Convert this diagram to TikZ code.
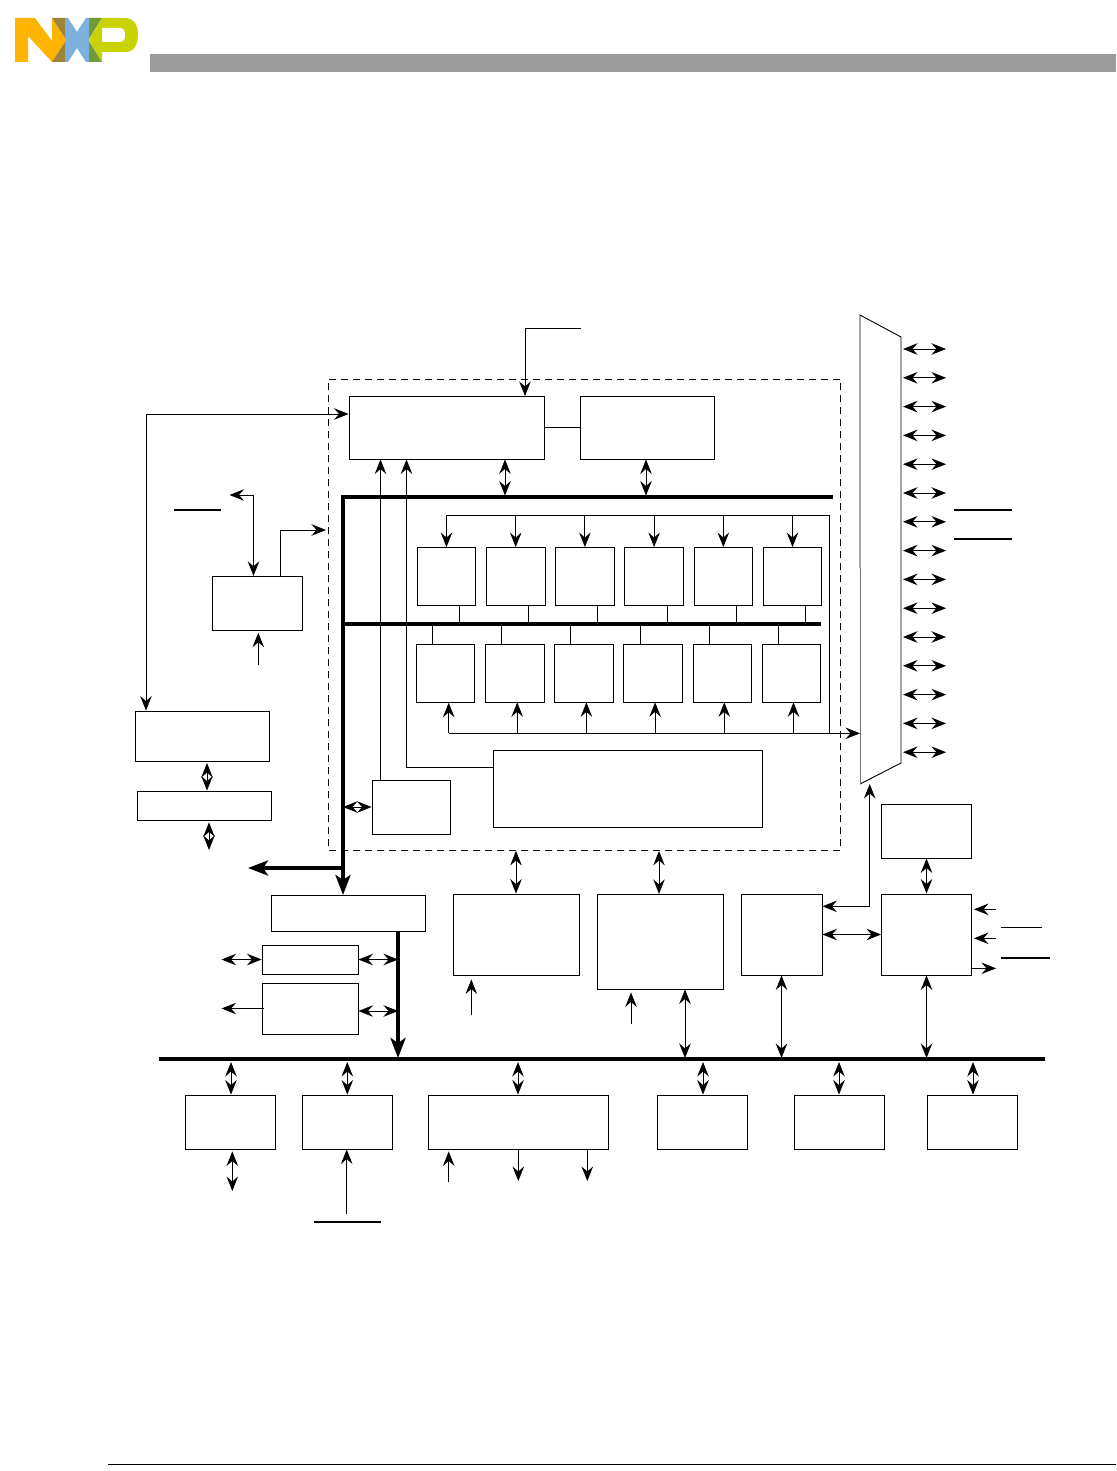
\documentclass[tikz,border=0pt]{standalone}
\usepackage{amsmath}
\usepackage{tikz}
\usetikzlibrary{arrows.meta,positioning,calc}

\definecolor{nxpyellow}{HTML}{FFB500}
\definecolor{nxpbrown}{HTML}{9C853B}
\definecolor{nxpblue}{HTML}{7BB1DC}
\definecolor{nxpgreen}{HTML}{6F9A37}
\definecolor{nxplime}{HTML}{C9D300}
\definecolor{headerbar}{HTML}{9C9C9C}

\begin{document}
\begin{tikzpicture}[
    x=1pt, y=-1pt,
    line width=0.9pt,
    blk/.style={draw, rectangle, inner sep=0pt},
    core/.style={draw, rectangle, inner sep=0pt, minimum width=58.5pt, minimum height=58pt},
    perif/.style={draw, rectangle, inner sep=0pt, minimum width=90pt, minimum height=54pt},
    arr/.style={-{Stealth[length=14.5pt,width=11.5pt,inset=5pt]}},
    biarr/.style={{Stealth[length=14.5pt,width=11.5pt,inset=5pt]}-{Stealth[length=14.5pt,width=11.5pt,inset=5pt]}},
    bus/.style={line width=4pt},
    busarr/.style={line width=4pt, -{Stealth[length=20pt,width=15pt,inset=5pt]}},
    bar/.style={line width=2pt},
    thinbar/.style={line width=1pt}
]
    \useasboundingbox (0,0) rectangle (1116,1471);

    % logo and page rules
    \fill[nxpyellow] (15,18) -- (35,18) -- (52,41) -- (52,18) -- (65,38) -- (65,42) -- (52,62) -- (28,36) -- (28,62) -- (15,62) -- cycle;
    \fill[nxpbrown] (52,18) -- (65,18) -- (65,38) -- cycle;
    \fill[nxpbrown] (52,62) -- (65,42) -- (65,62) -- cycle;
    \fill[nxpblue] (65,18) -- (68,18) -- (77,32) -- (86,18) -- (89,18) -- (89,62) -- (86,62) -- (77,48) -- (68,62) -- (65,62) -- cycle;
    \fill[nxpgreen] (89,18) -- (102,18) -- (89,39) -- cycle;
    \fill[nxpgreen] (89,41) -- (102,62) -- (89,62) -- cycle;
    \fill[nxplime] (89,40) -- (102,18) -- (125,18) .. controls (134,18) and (138,25) .. (138,34)
        .. controls (138,45) and (134,52) .. (125,52) -- (102,52) -- (102,62) -- cycle;
    \fill[white] (102,28) -- (120,28) .. controls (124,28) and (125,31) .. (125,35)
        .. controls (125,39) and (124,42) .. (120,42) -- (102,42) -- cycle;
    \fill[headerbar] (150,54) rectangle (1116,72);
    \draw[line width=0.7pt] (108,1464) -- (1116,1464);

    % core region
    \node[blk, dash pattern=on 7pt off 5pt, minimum width=512pt, minimum height=471.5pt] (core) at (584.8,614.7) {};
    \node[blk, minimum width=195pt, minimum height=63pt] (ctrl) at (446.5,427.5) {};
    \node[blk, minimum width=134pt, minimum height=63pt] (cache) at (647,427.5) {};
    \node[blk, minimum width=269pt, minimum height=77pt] (dma) at (627.5,788.5) {};
    \node[blk, minimum width=78pt, minimum height=54pt] (dbg) at (411,807) {};

    % upper row of units
    \node[core] (ua) at (446.5,576.5) {};
    \node[core, right=9.8pt of ua] (ub) {};
    \node[core, right=9.8pt of ub] (uc) {};
    \node[core, right=9.8pt of uc] (ud) {};
    \node[core, right=9.8pt of ud] (ue) {};
    \node[core, right=9.8pt of ue] (uf) {};
    % lower row of units
    \node[core] (la) at (445.5,673.3) {};
    \node[core, right=9.8pt of la] (lb) {};
    \node[core, right=9.8pt of lb] (lc) {};
    \node[core, right=9.8pt of lc] (ld) {};
    \node[core, right=9.8pt of ld] (le) {};
    \node[core, right=9.8pt of le] (lf) {};

    % left side
    \node[blk, minimum width=90pt, minimum height=54pt] (clk) at (257.3,603.3) {};
    \node[blk, minimum width=134pt, minimum height=50pt] (jtag) at (202.5,736) {};
    \node[blk, minimum width=134pt, minimum height=29pt] (pad) at (204.5,805.5) {};
    \node[blk, minimum width=154pt, minimum height=36pt] (bridge) at (348.5,913) {};
    \node[blk, minimum width=96pt, minimum height=29pt] (sa) at (310,959.5) {};
    \node[blk, minimum width=96pt, minimum height=51pt] (sb) at (310,1008.5) {};

    % middle row
    \node[blk, minimum width=126pt, minimum height=81pt] (ma) at (516,934.5) {};
    \node[blk, minimum width=126pt, minimum height=95pt] (mb) at (660,941.5) {};
    \node[blk, minimum width=81pt, minimum height=81pt] (mc) at (781.5,934.5) {};
    \node[blk, minimum width=90pt, minimum height=81pt] (md) at (926.5,934.5) {};
    \node[perif] (me) at (926.5,831) {};

    % bottom row
    \node[perif] (ba) at (230,1122) {};
    \node[perif] (bb) at (347,1122) {};
    \node[blk, minimum width=180pt, minimum height=54pt] (bc) at (518,1122) {};
    \node[perif] (bd) at (702,1122) {};
    \node[perif] (be) at (839,1122) {};
    \node[perif] (bf) at (972,1122) {};

    % bus corners and taps
    \coordinate (bustl) at (343,496.8);
    \coordinate (bustr) at (833,496.8);
    \coordinate (busbl) at (343,895);
    \coordinate (busml) at (343,624);
    \coordinate (busmr) at (821,624);
    \coordinate (busout) at (248,868);
    \coordinate (busturn) at (343,868);
    \coordinate (sysl) at (159,1059);
    \coordinate (sysr) at (1045,1059);
    \coordinate (sysin) at (398,1058);

    \draw[bus, line join=miter] (bustr) -- (bustl) -- (busturn);
    \draw[busarr] (busturn) -- (busbl);
    \draw[busarr] (busturn) -- (busout);
    \draw[bus] (busml) -- (busmr);
    \draw[bus] (sysl) -- (sysr);
    \draw[busarr] (bridge.south -| sysin) -- (sysin);

    % mux on the right
    \coordinate (muxtl) at (860,315);
    \coordinate (muxtr) at (901,337);
    \coordinate (muxbr) at (901,763);
    \coordinate (muxbl) at (860,784);
    \coordinate (muxgrey) at (860,568);
    \draw (muxgrey) -- (muxtl) -- (muxtr) -- (muxbr) -- (muxbl);
    \draw[black!55] (muxgrey) -- (muxbl);
    \coordinate (pa) at (946,349);
    \coordinate (pb) at (946,377.8);
    \coordinate (pc) at (946,406.6);
    \coordinate (pd) at (946,435.4);
    \coordinate (pe) at (946,464.2);
    \coordinate (pf) at (946,493);
    \coordinate (pg) at (946,521.8);
    \coordinate (ph) at (946,550.6);
    \coordinate (pi) at (946,579.4);
    \coordinate (pj) at (946,608.2);
    \coordinate (pk) at (946,637);
    \coordinate (pl) at (946,665.8);
    \coordinate (pm) at (946,694.6);
    \coordinate (pn) at (946,723.4);
    \coordinate (po) at (946,752.2);
    \draw[biarr] (muxtr |- pa) ++(2,0) -- (pa);
    \draw[biarr] (muxtr |- pb) ++(2,0) -- (pb);
    \draw[biarr] (muxtr |- pc) ++(2,0) -- (pc);
    \draw[biarr] (muxtr |- pd) ++(2,0) -- (pd);
    \draw[biarr] (muxtr |- pe) ++(2,0) -- (pe);
    \draw[biarr] (muxtr |- pf) ++(2,0) -- (pf);
    \draw[biarr] (muxtr |- pg) ++(2,0) -- (pg);
    \draw[biarr] (muxtr |- ph) ++(2,0) -- (ph);
    \draw[biarr] (muxtr |- pi) ++(2,0) -- (pi);
    \draw[biarr] (muxtr |- pj) ++(2,0) -- (pj);
    \draw[biarr] (muxtr |- pk) ++(2,0) -- (pk);
    \draw[biarr] (muxtr |- pl) ++(2,0) -- (pl);
    \draw[biarr] (muxtr |- pm) ++(2,0) -- (pm);
    \draw[biarr] (muxtr |- pn) ++(2,0) -- (pn);
    \draw[biarr] (muxtr |- po) ++(2,0) -- (po);

    % core connections
    \coordinate (topin) at (581,328);
    \coordinate (ctrlin) at (525,396);
    \draw[arr] (topin) -| (ctrlin);
    \draw (ctrl.east |- cache.west) -- (cache.west);
    \coordinate (ctrltap) at (505,495.5);
    \coordinate (cachetap) at (646,495.5);
    \draw[biarr] (ctrl.south -| ctrltap) -- (ctrltap);
    \draw[biarr] (cache.south -| cachetap) -- (cachetap);
    \coordinate (dbgup) at (380.5,780);
    \coordinate (dmaup) at (406.5,767);
    \draw[arr] (dbgup) -- (ctrl.south -| dbgup);
    \draw[arr] (dma.west |- dmaup) -- (dmaup) -- (ctrl.south -| dmaup);
    \draw[biarr] (busml |- dbg.west) -- (dbg.west);

    % upper distribution
    \coordinate (distl) at (446.5,515);
    \coordinate (distr) at (829,515);
    \coordinate (muxin) at (860,733.3);
    \coordinate (lowl) at (448.7,733.3);
    \draw (distl) -- (distr) -- (distr |- muxin);
    \draw[arr] (distl) -- (ua.north -| distl);
    \draw[arr] (ub.north |- distl) -- (ub.north);
    \draw[arr] (uc.north |- distl) -- (uc.north);
    \draw[arr] (ud.north |- distl) -- (ud.north);
    \draw[arr] (ue.north |- distl) -- (ue.north);
    \draw[arr] (uf.north |- distl) -- (uf.north);
    % lower distribution
    \draw[arr] (lowl) -- (muxin);
    \draw[arr] (lowl) -- (la.south -| lowl);
    \draw[arr] (lb.south |- lowl) ++(2.5,0) -- ++(0,-31);
    \draw[arr] (lc.south |- lowl) ++(2.5,0) -- ++(0,-31);
    \draw[arr] (ld.south |- lowl) ++(2,0) -- ++(0,-31);
    \draw[arr] (le.south |- lowl) ++(2,0) -- ++(0,-31);
    \draw[arr] (lf.south |- lowl) ++(2,0) -- ++(0,-31);
    % stubs to the inner bus
    \draw ([xshift=13pt]ua.south) -- ([xshift=13pt]ua.south |- busml);
    \draw ([xshift=13pt]ub.south) -- ([xshift=13pt]ub.south |- busml);
    \draw ([xshift=13pt]uc.south) -- ([xshift=13pt]uc.south |- busml);
    \draw ([xshift=13pt]ud.south) -- ([xshift=13pt]ud.south |- busml);
    \draw ([xshift=13pt]ue.south) -- ([xshift=13pt]ue.south |- busml);
    \draw ([xshift=13pt]uf.south) -- ([xshift=13pt]uf.south |- busml);
    \draw ([xshift=-13pt]la.north) -- ([xshift=-13pt]la.north |- busml);
    \draw ([xshift=-13pt]lb.north) -- ([xshift=-13pt]lb.north |- busml);
    \draw ([xshift=-13pt]lc.north) -- ([xshift=-13pt]lc.north |- busml);
    \draw ([xshift=-13pt]ld.north) -- ([xshift=-13pt]ld.north |- busml);
    \draw ([xshift=-13pt]le.north) -- ([xshift=-13pt]le.north |- busml);
    \draw ([xshift=-13pt]lf.north) -- ([xshift=-13pt]lf.north |- busml);

    % left side connections
    \coordinate (lefttop) at (146,414);
    \draw[biarr] (ctrl.west |- lefttop) -- (lefttop) -- (lefttop |- jtag.north);
    \coordinate (rstout) at (229.5,495);
    \coordinate (rstdown) at (253.5,495);
    \draw[biarr] (rstout) -- (rstdown) -- (rstdown |- clk.north);
    \coordinate (clkout) at (326,530);
    \coordinate (clkup) at (280.5,530);
    \draw[arr] (clk.north -| clkup) -- (clkup) -- (clkout);
    \coordinate (clkin) at (258.3,665);
    \draw[arr] (clkin) -- ([yshift=-2pt]clk.south -| clkin);
    \draw[bar] (174,510) coordinate (rsta) -- (221,510) coordinate (rstb);
    \coordinate (jtagtap) at (207,763);
    \draw[biarr] (jtagtap) -- (pad.north -| jtagtap);
    \coordinate (padout) at (209,850);
    \draw[biarr] ([yshift=-2pt]pad.south -| padout) -- (padout);

    % bridge side connections
    \draw[biarr] (sa.west) -- ++(-40,0) coordinate (saout);
    \draw[biarr] (sa.east) -- (sa.east -| sysin);
    \draw[arr] (sb.west) ++(2,0) -- ++(-42,0) coordinate (sbout);
    \draw[biarr] ([yshift=-2.5pt]sb.east) -- ([yshift=-2.5pt]sb.east -| sysin);

    % middle connections
    \coordinate (mainlet) at (471.3,1015);
    \coordinate (mbinlet) at (631,1024);
    \coordinate (mctap) at (781.5,1058);
    \coordinate (mbtap) at (685,1058);
    \coordinate (mdtap) at (926.5,1058);
    \draw[biarr] (core.south -| ma.north) -- (ma.north);
    \draw[biarr] (core.south -| mb.north) ++(-1,0) -- ++(0,43);
    \draw[arr] (mainlet) -- ([yshift=-4pt]ma.south -| mainlet);
    \draw[arr] (mbinlet) -- ([yshift=-3pt]mb.south -| mbinlet);
    \draw[biarr] (mb.south -| mbtap) -- (mbtap);
    \draw[biarr] (mc.south -| mctap) -- (mctap);
    \draw[biarr] (md.south) -- (mdtap);
    \draw[biarr] (me.south) -- (md.north);
    \coordinate (mcup) at (869.7,906.3);
    \draw[biarr] (mc.east |- mcup) -- (mcup) -- (mcup |- muxbl);
    \draw[biarr] (mc.east) -- (md.west);

    % right side inputs
    \coordinate (rina) at (996,909.3);
    \coordinate (rinb) at (996,938.3);
    \coordinate (rout) at (996,968.3);
    \draw[arr] (rina) -- ([xshift=2pt]md.east |- rina);
    \draw[arr] (rinb) -- ([xshift=2pt]md.east |- rinb);
    \draw[arr] (md.east |- rout) -- (rout);
    \draw[thinbar] (1001,927.3) coordinate (ovra) -- (1042,927.3) coordinate (ovrb);
    \draw[bar] (1001,958) coordinate (ovrc) -- (1050,958) coordinate (ovrd);
    \draw[bar] (954,510) coordinate (ovre) -- (1012,510) coordinate (ovrf);
    \draw[bar] (954,539) coordinate (ovrg) -- (1012,539) coordinate (ovrh);

    % bottom row connections
    \coordinate (sysa) at (231,1062);
    \coordinate (sysb) at (347.3,1062);
    \coordinate (sysc) at (518,1062);
    \coordinate (sysd) at (703,1062);
    \coordinate (syse) at (839,1062);
    \coordinate (sysf) at (973,1062);
    \draw[biarr] (sysa) -- (ba.north -| sysa);
    \draw[biarr] (sysb) -- (bb.north -| sysb);
    \draw[biarr] (sysc) -- (bc.north -| sysc);
    \draw[biarr] (sysd) -- (bd.north -| sysd);
    \draw[biarr] (syse) -- (be.north -| syse);
    \draw[biarr] (sysf) -- (bf.north -| sysf);
    \coordinate (baout) at (232.3,1191);
    \draw[biarr] ([yshift=-2pt]ba.south -| baout) -- (baout);
    \coordinate (bbin) at (346.7,1214);
    \draw[arr] (bbin) -- (bb.south -| bbin);
    \draw[bar] (314,1222) coordinate (ovri) -- (381,1222) coordinate (ovrj);
    \coordinate (bcin) at (448.7,1182);
    \coordinate (bcouta) at (518.3,1181);
    \coordinate (bcoutb) at (587.3,1181);
    \draw[arr] (bcin) -- ([yshift=-2pt]bc.south -| bcin);
    \draw[arr] (bc.south -| bcouta) -- (bcouta);
    \draw[arr] (bc.south -| bcoutb) -- (bcoutb);
\end{tikzpicture}
\end{document}
